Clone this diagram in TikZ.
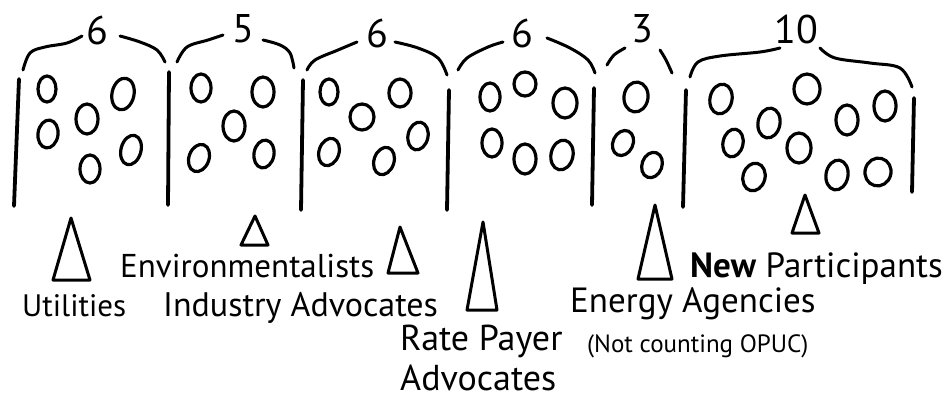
\documentclass[tikz,border=0pt]{standalone}
\usepackage{fontspec}
\setmainfont{PT Sans}
\begin{document}
\begin{tikzpicture}[x=1pt,y=-1pt, line cap=round, line join=round,
  sep/.style={line width=3.8pt},
  brc/.style={line width=3pt},
  oval/.style={line width=3.2pt},
  tri/.style={line width=3pt},
  lbl/.style={font=\fontsize{34}{36}\selectfont, inner sep=0pt},
  sml/.style={font=\fontsize{25}{27}\selectfont, inner sep=0pt},
  num/.style={font=\fontsize{40}{40}\selectfont, inner sep=0pt}]
\useasboundingbox (0,0) rectangle (948,400);
% separators
\draw[sep] (19,79) -- (14,206);
\draw[sep] (169,72) -- (168,205);
\draw[sep] (303,80) -- (301,210);
\draw[sep] (449,90) -- (447,210);
\draw[sep] (594,88) -- (592,205);
\draw[sep] (686,90) -- (683,207);
\draw[sep] (914,98) -- (912,192);
% braces
\draw[brc] plot[smooth,tension=0.6] coordinates {(23,70) (30,53) (45,47) (67,43) (82,36)};
\draw[brc] plot[smooth,tension=0.6] coordinates {(120,36) (140,42) (157,50) (165,62)};
\draw[brc] plot[smooth,tension=0.6] coordinates {(177,62) (187,47) (208,40) (223,35)};
\draw[brc] plot[smooth,tension=0.6] coordinates {(263,40) (280,45) (290,53) (294,68)};
\draw[brc] plot[smooth,tension=0.6] coordinates {(307,70) (315,60) (338,50) (357,42)};
\draw[brc] plot[smooth,tension=0.6] coordinates {(395,42) (418,48) (438,58) (447,75)};
\draw[brc] plot[smooth,tension=0.6] coordinates {(458,70) (467,58) (488,47) (503,42)};
\draw[brc] plot[smooth,tension=0.6] coordinates {(547,38) (570,48) (588,60) (595,73)};
\draw[brc] plot[smooth,tension=0.6] coordinates {(607,65) (614,55) (625,48)};
\draw[brc] plot[smooth,tension=0.6] coordinates {(660,50) (666,60) (672,73)};
\draw[brc] plot[smooth,tension=0.6] coordinates {(690,77) (698,62) (720,56) (760,52) (780,48)};
\draw[brc] plot[smooth,tension=0.6] coordinates {(820,48) (835,58) (870,63) (900,68) (912,87)};
% numbers
\node[num] (n1) at (97,30) {6};
\node[num] (n2) at (243,29) {5};
\node[num] (n3) at (377,33) {6};
\node[num] (n4) at (522,33) {6};
\node[num] (n5) at (642,29) {3};
\node[num] (n6) at (796,29) {10};
% ovals group 1
\draw[oval] (47,89) circle[x radius=9,y radius=13];
\draw[oval] (123,94) circle[x radius=11,y radius=16,rotate=-12];
\draw[oval] (87,119) circle[x radius=11,y radius=15];
\draw[oval] (48,134) circle[x radius=10,y radius=14,rotate=-8];
\draw[oval] (131,150) circle[x radius=10,y radius=15,rotate=-15];
\draw[oval] (90,169) circle[x radius=10,y radius=14];
% group 2
\draw[oval] (201,88) circle[x radius=10,y radius=14];
\draw[oval] (263,92) circle[x radius=11,y radius=15];
\draw[oval] (234,126) circle[x radius=11,y radius=15];
\draw[oval] (199,158) circle[x radius=10,y radius=14,rotate=-20];
\draw[oval] (264,154) circle[x radius=10,y radius=14,rotate=-10];
% group 3
\draw[oval] (329,92) circle[x radius=9,y radius=13];
\draw[oval] (400,93) circle[x radius=11,y radius=14];
\draw[oval] (362,117) circle[x radius=12,y radius=13];
\draw[oval] (418,136) circle[x radius=10,y radius=14,rotate=-12];
\draw[oval] (329,152) circle[x radius=10,y radius=14,rotate=-18];
\draw[oval] (384,161) circle[x radius=10,y radius=14,rotate=-18];
% group 4
\draw[oval] (490,97) circle[x radius=10,y radius=14];
\draw[oval] (525,84) circle[x radius=11,y radius=12];
\draw[oval] (565,103) circle[x radius=12,y radius=15];
\draw[oval] (492,143) circle[x radius=10,y radius=14];
\draw[oval] (525,159) circle[x radius=11,y radius=15];
\draw[oval] (562,155) circle[x radius=11,y radius=15,rotate=-12];
% group 5
\draw[oval] (636,97) circle[x radius=12,y radius=15,rotate=-8];
\draw[oval] (623,143) circle[x radius=10,y radius=13,rotate=-25];
\draw[oval] (652,165) circle[x radius=10,y radius=13,rotate=-20];
% group 6
\draw[oval] (721,99) circle[x radius=11,y radius=15,rotate=-12];
\draw[oval] (807,89) circle[x radius=13,y radius=15];
\draw[oval] (885,106) circle[x radius=11,y radius=15];
\draw[oval] (769,123) circle[x radius=11,y radius=15,rotate=-10];
\draw[oval] (847,120) circle[x radius=11,y radius=15];
\draw[oval] (733,143) circle[x radius=10,y radius=14,rotate=-12];
\draw[oval] (799,148) circle[x radius=12,y radius=15];
\draw[oval] (754,177) circle[x radius=11,y radius=14,rotate=-15];
\draw[oval] (837,175) circle[x radius=11,y radius=15,rotate=-10];
\draw[oval] (878,172) circle[x radius=13,y radius=14,rotate=-15];
% triangles
\draw[tri] (71,218) -- (90,280) -- (53,280) -- cycle;
\draw[tri] (255,216) -- (268,245) -- (241,245) -- cycle;
\draw[tri] (400,227) -- (418,273) -- (388,273) -- cycle;
\draw[tri] (483,222) -- (497,310) -- (467,310) -- cycle;
\draw[tri] (655,205) -- (672,279) -- (638,279) -- cycle;
\draw[tri] (805,195) -- (819,233) -- (792,233) -- cycle;
% labels
\node[lbl, font=\fontsize{31}{33}\selectfont, anchor=base west] (util) at (22,316) {Utilities};
\node[lbl, font=\fontsize{33}{35}\selectfont, anchor=base west] (env) at (120,277) {Environmentalists};
\node[lbl, anchor=base west] (ind) at (163,316) {Industry Advocates};
\node[lbl, font=\fontsize{36}{38}\selectfont, anchor=base west] (rp1) at (400,350) {Rate Payer};
\node[lbl, font=\fontsize{36}{38}\selectfont, anchor=base west] (rp2) at (400,390) {Advocates};
\node[lbl, font=\fontsize{35}{37}\selectfont, anchor=base west] (ea) at (570,312) {Energy Agencies};
\node[sml, anchor=base west] (nc) at (587,352) {(Not counting OPUC)};
\node[lbl, font=\fontsize{35}{37}\selectfont, anchor=base west] (np) at (690,277) {\textbf{New} Participants};
\end{tikzpicture}
\end{document}
